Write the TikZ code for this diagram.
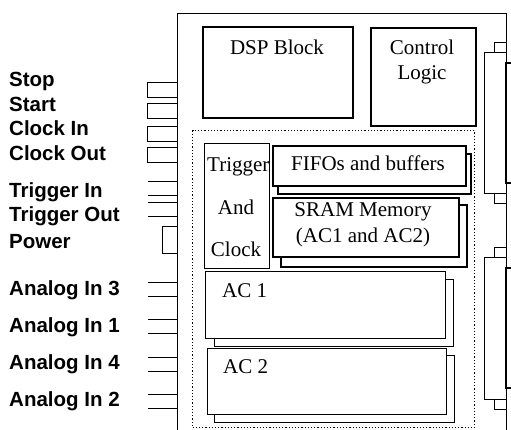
\documentclass[tikz,border=0pt]{standalone}
\usepackage{fontspec}
\setmainfont{Liberation Serif}
\setsansfont{Liberation Sans}
\usetikzlibrary{positioning}

\begin{document}
\begin{tikzpicture}[x=1pt,y=-1pt,
		board/.style={draw,line width=1.2pt,inner sep=0pt,anchor=north west},
		blk/.style={draw,fill=white,line width=1.8pt,inner sep=0pt,anchor=north west},
		thinblk/.style={blk,line width=1pt},
		port/.style={draw,line width=1pt},
		pin/.style={font=\sffamily\bfseries\fontsize{20.5}{24}\selectfont,anchor=base west,inner sep=0pt},
		txt/.style={font=\fontsize{21}{25}\selectfont,inner sep=0pt,anchor=base}]
		\clip (0,0) rectangle (511,430);

		% board
		\node[board,minimum width=329pt,minimum height=440pt] (board) at (177,13) {};

		% left pins
		\foreach \lbl/\y [count=\i] in {Stop/87,Start/112,Clock In/136,Clock Out/161,Trigger In/198,Trigger Out/222,Power/249,Analog In 3/295,Analog In 1/332,Analog In 4/369,Analog In 2/406}
			\node[pin] (pin\i) at (9,\y) {\lbl};

		\foreach \y in {83,104,127,148}
			\draw[port] (177,\y) rectangle (147,\y+15);
		\foreach \y in {182,203,282,319,357,394}
			\draw[port] (177,\y) -- (148,\y) (148,\y+14) -- (177,\y+14);
		\draw[port] (177,227) rectangle (162,254);

		% right connectors
		\foreach \y in {43,248}{
			\draw[port] (494,\y) rectangle (506,\y+10);
			\draw[port] (484,\y+10) rectangle (506,\y+151);
			\draw[line width=1.6pt] (506,\y+20) rectangle (520,\y+140);
			\draw[port] (494,\y+151) rectangle (506,\y+161);
		}

		% upper blocks
		\node[blk,minimum width=150pt,minimum height=91pt] (dsp) at (202,26) {};
		\node[txt] (dsptxt) at (277,55) {DSP Block};
		\node[blk,minimum width=105pt,minimum height=98pt] (ctrl) at (370,27) {};
		\node[txt] (ctrltxt) at (422,55) {Control};
		\node[txt] (logictxt) at (422,80) {Logic};

		% acquisition area
		\node[draw,dotted,line width=1.2pt,inner sep=0pt,anchor=north west,
			minimum width=282pt,minimum height=297pt] (acq) at (192,130) {};

		\node[blk,line width=1.4pt,minimum width=65pt,minimum height=125pt] (trig) at (204,143) {};
		\node[txt,anchor=base west] (trigtxt) at (207,172) {Trigger};
		\node[txt] (andtxt) at (236,215) {And};
		\node[txt] (clktxt) at (236,257) {Clock};

		\node[blk,minimum width=193pt,minimum height=40pt] (fifob) at (277,153) {};
		\node[blk,minimum width=193pt,minimum height=40pt] (fifo) at (272,145) {};
		\node[txt] (fifotxt) at (368,171) {FIFOs and buffers};

		\node[blk,minimum width=186pt,minimum height=62pt] (sramb) at (280,204) {};
		\node[blk,minimum width=186pt,minimum height=59pt] (sram) at (272,197) {};
		\node[txt] (sramtxt) at (363,217) {SRAM Memory};
		\node[txt] (actxt) at (363,243) {(AC1 and AC2)};

		\node[thinblk,minimum width=239pt,minimum height=67pt] (ac1b) at (214,279) {};
		\node[thinblk,minimum width=240pt,minimum height=67pt] (ac1) at (205,271) {};
		\node[txt,anchor=base west] (ac1txt) at (222,298) {AC 1};

		\node[thinblk,minimum width=240pt,minimum height=67pt] (ac2b) at (214,355) {};
		\node[thinblk,minimum width=239pt,minimum height=66pt] (ac2) at (207,348) {};
		\node[txt,anchor=base west] (ac2txt) at (223,373) {AC 2};
\end{tikzpicture}
\end{document}
